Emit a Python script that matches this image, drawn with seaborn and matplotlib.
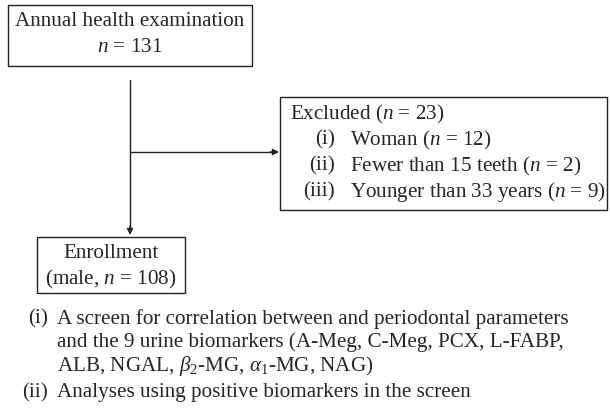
import matplotlib
matplotlib.use("Agg")
import matplotlib.pyplot as plt
import seaborn as sns
from matplotlib.patches import Rectangle

sns.set_style("white")
plt.rcParams['font.family'] = ['Liberation Serif', 'DejaVu Serif']
plt.rcParams['mathtext.fontset'] = 'custom'
plt.rcParams['mathtext.rm'] = 'Liberation Serif'
plt.rcParams['mathtext.it'] = 'Liberation Serif:italic'
plt.rcParams['mathtext.bf'] = 'Liberation Serif:bold'

# ---- content ----
top_box_lines = ["Annual health examination", "$n$ = 131"]
enroll_lines = ["Enrollment", "(male, $n$ = 108)"]
excluded_title = "Excluded ($n$ = 23)"
excluded_labels = ["(i)", "(ii)", "(iii)"]
excluded_items = ["Woman ($n$ = 12)", "Fewer than 15 teeth ($n$ = 2)",
                  "Younger than 33 years ($n$ = 9)"]
analysis_labels = ["(i)", "", "", "(ii)"]
analysis_lines = ["A screen for correlation between and periodontal parameters",
                  "and the 9 urine biomarkers (A-Meg, C-Meg, PCX, L-FABP,",
                  "ALB, NGAL, $\\beta_2$-MG, $\\alpha_1$-MG, NAG)",
                  "Analyses using positive biomarkers in the screen"]

W, H = 610, 413
fig = plt.figure(figsize=(W / 100, H / 100), dpi=100)
ax = fig.add_axes([0, 0, 1, 1])
ax.set_xlim(0, W)
ax.set_ylim(H, 0)
ax.axis("off")

fs = 15.2
lw = 1.0
col = "#222222"

def box(x0, y0, x1, y1):
    ax.add_patch(Rectangle((x0, y0), x1 - x0, y1 - y0, fill=False,
                           edgecolor=col, linewidth=lw))

# top box
box(8, 5, 252, 66)
ax.text(130, 22, top_box_lines[0], ha="center", va="center", fontsize=fs)
ax.text(130, 48, top_box_lines[1], ha="center", va="center", fontsize=fs)

# enrollment box
box(37, 237, 185, 293)
ax.text(111, 254, enroll_lines[0], ha="center", va="center", fontsize=fs)
ax.text(111, 279, enroll_lines[1], ha="center", va="center", fontsize=fs)

# excluded box
box(280, 97, 607, 210)
ax.text(290, 114, excluded_title, ha="left", va="center", fontsize=fs)
for i, (lab, item) in enumerate(zip(excluded_labels, excluded_items)):
    y = 140 + i * 26
    ax.text(335, y, lab, ha="right", va="center", fontsize=fs)
    ax.text(350, y, item, ha="left", va="center", fontsize=fs)

# connectors
ax.plot([130, 130], [80, 228], color=col, lw=lw)
ax.annotate("", xy=(130, 235), xytext=(130, 226),
            arrowprops=dict(arrowstyle="-|>", color=col, lw=lw,
                            mutation_scale=9, shrinkA=0, shrinkB=0))
ax.plot([130, 272], [152, 152], color=col, lw=lw)
ax.annotate("", xy=(279, 152), xytext=(270, 152),
            arrowprops=dict(arrowstyle="-|>", color=col, lw=lw,
                            mutation_scale=9, shrinkA=0, shrinkB=0))

# analysis list
ys = [319, 342, 366, 393]
for lab, line, y in zip(analysis_labels, analysis_lines, ys):
    if lab:
        ax.text(48, y, lab, ha="right", va="center", fontsize=fs)
    ax.text(57, y, line, ha="left", va="center", fontsize=fs)

fig.savefig("out.png", dpi=100, facecolor="white")
